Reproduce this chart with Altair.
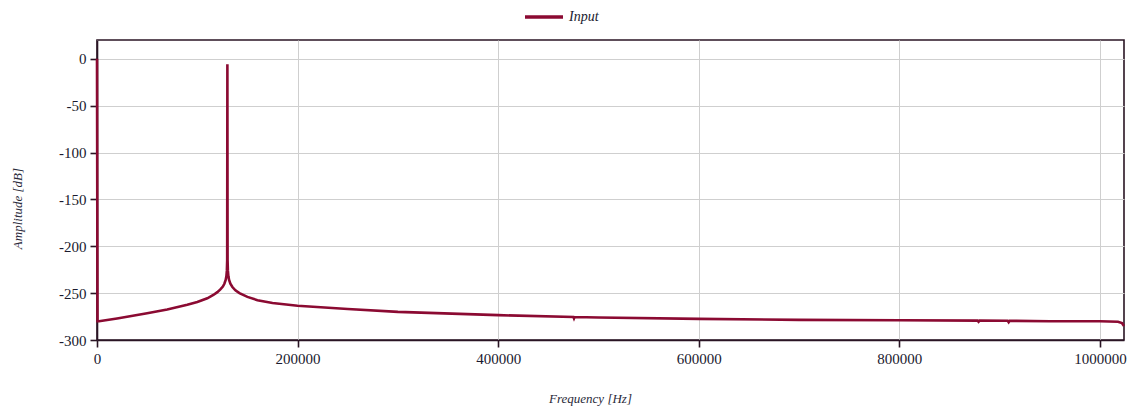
import altair as alt
import pandas as pd

# Frequency [Hz] and amplitude [dB]
freq = [0, 500, 2000, 20000, 50000, 70000, 90000, 100000, 110000, 116000, 120000, 123000, 125500,
        127000, 128300, 129000, 129500, 129800, 130000, 130200, 130500, 131000, 131700, 133000,
        135000, 138000, 142000, 150000, 160000, 175000, 200000, 250000, 300000, 400000, 475000,
        475600, 476200, 500000, 600000, 700000, 800000, 878000, 879000, 880000,
        908000, 909000, 910000, 950000, 1000000, 1018000, 1022000, 1024000]
amp = [0, -280, -280, -277, -271.5, -267.5, -262.5, -259.5, -255.5, -252, -249, -246, -243,
       -240, -236, -232, -226, -215, -6, -215, -226, -232, -236, -240,
       -243.5, -247, -250, -254, -257.5, -260.5, -263.5, -267, -270, -273.5, -275.5,
       -277, -275.5, -276, -277.5, -278.5, -279, -279.3, -280.5, -279.3,
       -279.5, -281, -279.5, -280, -280, -280.5, -282, -285]
series = ["Input"] * len(freq)

df = pd.DataFrame({"freq": freq, "amp": amp, "series": series})

font = "Liberation Serif"
dark = "#2a1424"

chart = alt.Chart(df).mark_line(strokeWidth=2.6, interpolate="linear").encode(
    x=alt.X("freq:Q", title="Frequency [Hz]",
            scale=alt.Scale(domain=[0, 1024000], nice=False, zero=False),
            axis=alt.Axis(values=[0, 200000, 400000, 600000, 800000, 1000000],
                          format="d", labelFlush=False, titlePadding=26,
                          titleX=493)),
    y=alt.Y("amp:Q", title="Amplitude [dB]",
            scale=alt.Scale(domain=[-300, 20], nice=False),
            axis=alt.Axis(values=[0, -50, -100, -150, -200, -250, -300],
                          format="d", titlePadding=34, titleY=168,
                          labelExpr="replace(datum.label, '\u2212', '-')")),
    color=alt.Color("series:N", title=None,
                    scale=alt.Scale(domain=["Input"], range=["#8b0a32"]),
                    legend=alt.Legend(orient="none", legendX=426, legendY=-44,
                                      direction="horizontal",
                                      symbolType="stroke", symbolSize=1444,
                                      symbolStrokeWidth=3.5,
                                      labelFont=font, labelFontStyle="italic",
                                      labelFontSize=14, labelColor="#1a1a2e")),
).properties(
    width=1027, height=300,
    autosize=alt.AutoSizeParams(type="none"),
    padding={"left": 97, "top": 40, "right": 15, "bottom": 71},
).configure_view(
    stroke=dark, strokeWidth=1.6
).configure_axis(
    labelFont=font, labelFontSize=15, labelColor="#1a1a2e",
    titleFont=font, titleFontSize=13, titleFontStyle="italic",
    titleFontWeight="normal", titleColor="#2a2a3a",
    gridColor="#cfcfcf", gridWidth=1,
    domainColor=dark, domainWidth=1.6,
    tickColor=dark, tickSize=7, tickWidth=1.6, labelPadding=4
)

chart.save("out.html", embed_options={"renderer": "svg", "actions": False})
